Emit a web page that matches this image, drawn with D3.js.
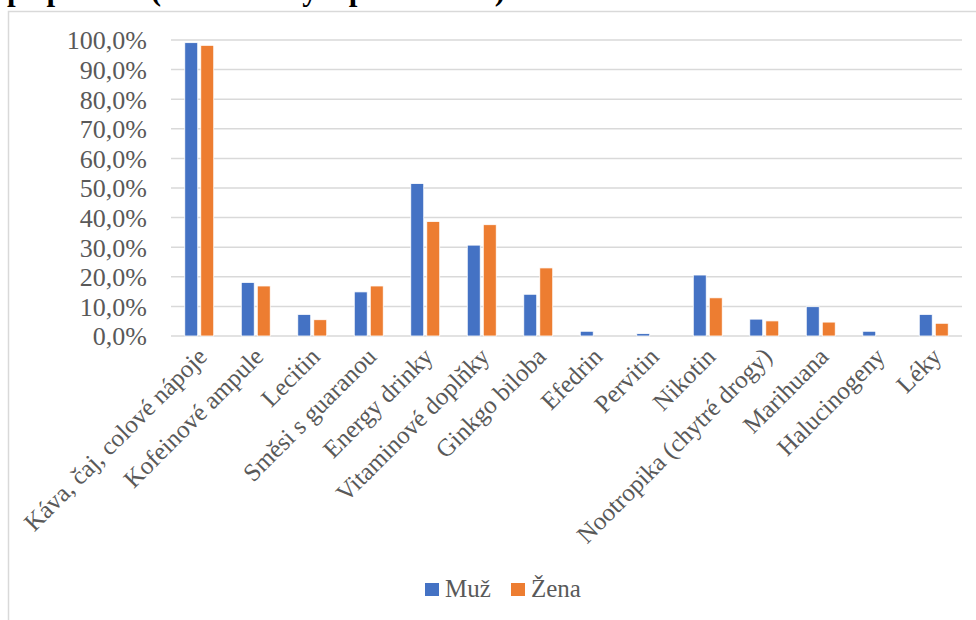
<!DOCTYPE html>
<html>
<head>
<meta charset="utf-8">
<script src="https://cdn.jsdelivr.net/npm/d3@7"></script>
<style>
  html, body { margin: 0; padding: 0; background: #fff; }
  svg { display: block; }
</style>
</head>
<body>
<svg id="chart" width="976" height="620"></svg>
<script>
// Categories of stimulants and the share of respondents using them
const categories = [
  "Káva, čaj, colové nápoje", "Kofeinové ampule", "Lecitin", "Směsi s guaranou",
  "Energy drinky", "Vitaminové doplňky", "Ginkgo biloba", "Efedrin", "Pervitin",
  "Nikotin", "Nootropika (chytré drogy)", "Marihuana", "Halucinogeny", "Léky"
];
const seriesNames = ["Muž", "Žena"];
const muz  = [99.1, 18.1, 7.3, 14.9, 51.5, 30.7, 14.1, 1.6, 0.8, 20.6, 5.7, 9.9, 1.6, 7.3];
const zena = [98.2, 16.9, 5.5, 16.9, 38.7, 37.6, 23.0, 0.0, 0.0, 12.9, 5.1, 4.7, 0.0, 4.3];
const yTicks = [0, 10, 20, 30, 40, 50, 60, 70, 80, 90, 100];
const titleText = "přípravků (muži a ženy v procentech)";

const colors = { "Muž": "#4472C4", "Žena": "#ED7D31" };
const values = { "Muž": muz, "Žena": zena };

const svg = d3.select("#chart");
const font = "'Liberation Serif', 'Times New Roman', serif";

// Heading line above the chart frame, running off the top edge of the page
svg.append("text")
  .attr("x", 7).attr("y", 0)
  .attr("font-family", font).attr("font-weight", "bold")
  .attr("font-size", 31).attr("fill", "#000")
  .text(titleText);

// Chart frame
svg.append("rect")
  .attr("x", 8.5).attr("y", 11.5)
  .attr("width", 1000).attr("height", 700)
  .attr("fill", "#fff").attr("stroke", "#d9d9d9").attr("stroke-width", 1.5);

const plot = { left: 171, right: 962, top: 40, bottom: 336 };

const x0 = d3.scaleBand().domain(categories).range([plot.left, plot.right]).padding(0);
const x1 = d3.scaleBand().domain(seriesNames).range([0, x0.bandwidth()])
  .paddingInner(0.19).paddingOuter(0.86);
const y = d3.scaleLinear().domain([0, 100]).range([plot.bottom, plot.top]);

// Gridlines
svg.append("g").selectAll("line").data(yTicks).join("line")
  .attr("x1", plot.left).attr("x2", plot.right)
  .attr("y1", d => y(d)).attr("y2", d => y(d))
  .attr("stroke", "#d9d9d9").attr("stroke-width", 1.5);

// Y axis labels
const yAxis = d3.axisLeft(y).tickValues(yTicks).tickSize(0).tickPadding(0)
  .tickFormat(d => d3.format(".1f")(d).replace(".", ",") + "%");
const gy = svg.append("g").attr("transform", `translate(${plot.left - 24},0)`).call(yAxis);
gy.select(".domain").remove();
gy.selectAll("text")
  .attr("font-family", font).attr("font-size", 26).attr("fill", "#595959")
  .attr("dy", "0.34em");

// Bars
const groups = svg.append("g").selectAll("g").data(categories).join("g")
  .attr("transform", d => `translate(${x0(d)},0)`);
groups.selectAll("rect")
  .data((d, i) => seriesNames.map(s => ({ s, v: values[s][i] })))
  .join("rect")
  .attr("x", d => x1(d.s))
  .attr("width", x1.bandwidth())
  .attr("y", d => y(d.v))
  .attr("height", d => y(0) - y(d.v))
  .attr("fill", d => colors[d.s])
  .attr("stroke", "#fff").attr("stroke-width", 0.8);

// X axis labels, rotated
const xAxis = d3.axisBottom(x0).tickSize(0).tickPadding(0);
const gx = svg.append("g").attr("transform", `translate(0,${plot.bottom})`).call(xAxis);
gx.select(".domain").remove();
gx.selectAll(".tick text")
  .attr("font-family", font).attr("font-size", 25).attr("fill", "#595959")
  .attr("text-anchor", "end")
  .attr("dy", "0.35em").attr("y", 0)
  .attr("transform", "translate(3,16) rotate(-45)");

// Legend
const legend = svg.append("g").attr("font-family", font).attr("font-size", 25).attr("fill", "#595959");
const legendPos = [{ s: "Muž", x: 425 }, { s: "Žena", x: 511 }];
legendPos.forEach(p => {
  legend.append("rect").attr("x", p.x).attr("y", 583).attr("width", 14).attr("height", 13)
    .attr("fill", colors[p.s]);
  legend.append("text").attr("x", p.x + 20).attr("y", 597).text(p.s);
});
</script>
</body>
</html>
